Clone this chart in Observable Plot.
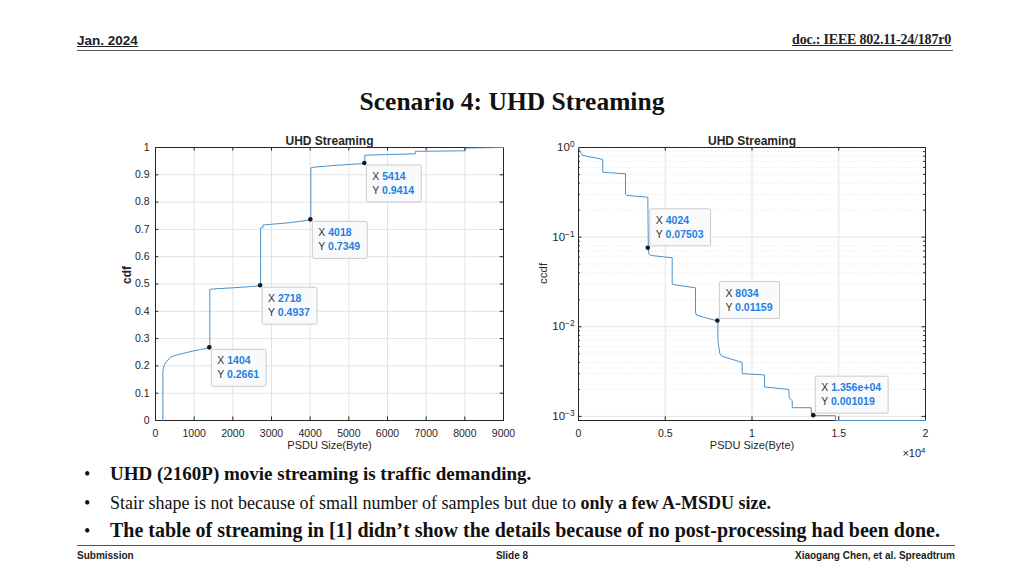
<!DOCTYPE html>
<html>
<head>
<meta charset="utf-8">
<script src="https://cdn.jsdelivr.net/npm/d3@7"></script>
<script src="https://cdn.jsdelivr.net/npm/@observablehq/plot@0.6"></script>
<style>
  html, body { margin:0; padding:0; background:#fff; }
  #page { position:relative; width:1024px; height:576px; overflow:hidden; background:#fff; }
  .abs { position:absolute; white-space:nowrap; }
  .hdrL { left:77px; top:33px; font-family:"Liberation Sans Narrow","Liberation Sans",Arial,sans-serif; font-stretch:condensed; font-weight:bold; font-size:13.5px; color:#222; text-decoration:underline; }
  .hdrR { right:73px; top:32px; font-family:"Liberation Serif","Times New Roman",serif; font-weight:bold; font-size:14px; color:#222; letter-spacing:-0.2px; text-decoration:underline; }
  .rule { position:absolute; height:0; border-top:1.5px solid #555; }
  .title { left:0; width:1024px; top:87px; text-align:center; font-family:"Liberation Serif","Times New Roman",serif; font-weight:bold; font-size:25.5px; color:#111; }
  .bullet { left:84px; font-family:"Liberation Serif","Times New Roman",serif; color:#111; }
  .bullet span.dot { display:inline-block; width:26px; font-size:18px; }
  .foot { top:550px; font-family:"Liberation Sans Narrow","Liberation Sans",Arial,sans-serif; font-weight:bold; font-size:10px; color:#222; }
  #left, #right { position:absolute; top:125px; }
  #left { left:100px; } #right { left:520px; }
</style>
</head>
<body>
<div id="page">
  <div class="abs hdrL">Jan. 2024</div>
  <div class="abs hdrR">doc.: IEEE 802.11-24/187r0</div>
  <div class="rule" style="left:77px; width:876px; top:50px;"></div>
  <div class="abs title">Scenario 4: UHD Streaming</div>
  <div id="left"></div>
  <div id="right"></div>
  <div class="abs bullet" style="top:463px; font-size:19px;"><span class="dot">•</span><b>UHD (2160P) movie streaming is traffic demanding.</b></div>
  <div class="abs bullet" style="top:493px; font-size:18px;"><span class="dot">•</span>Stair shape is not because of small number of samples but due to <b>only a few A-MSDU size.</b></div>
  <div class="abs bullet" style="top:519px; font-size:20px;"><span class="dot">•</span><b>The table of streaming in [1] didn’t show the details because of no post-processing had been done.</b></div>
  <div class="rule" style="left:77px; width:878px; top:545px;"></div>
  <div class="abs foot" style="left:77px;">Submission</div>
  <div class="abs foot" style="left:0; width:1024px; text-align:center;">Slide 8</div>
  <div class="abs foot" style="right:69px;">Xiaogang Chen, et al. Spreadtrum</div>
</div>
<script>
// ---------- data ----------
const chartTitle = "UHD Streaming";
const xLabel = "PSDU Size(Byte)";

// Left: CDF of PSDU size
const cdfX = [190,190,200,230,280,390,550,724,950,1164,1404,1404,1500,2000,2500,2718,2718,2780,2780,3500,4018,4018,4100,4700,5414,5414,6000,6720,6720,7500,8020,8020,9000];
const cdfY = [0,0.17,0.19,0.205,0.215,0.232,0.240,0.246,0.254,0.260,0.2661,0.48,0.482,0.486,0.491,0.4937,0.705,0.707,0.716,0.725,0.7349,0.925,0.928,0.935,0.9414,0.972,0.974,0.977,0.986,0.987,0.988,0.998,1.0];
const xTicksL = [0,1000,2000,3000,4000,5000,6000,7000,8000,9000];
const yTicksL = [0,0.1,0.2,0.3,0.4,0.5,0.6,0.7,0.8,0.9,1];
const tipsL = [
  {x:1404, y:0.2661, xs:"1404", ys:"0.2661"},
  {x:2718, y:0.4937, xs:"2718", ys:"0.4937"},
  {x:4018, y:0.7349, xs:"4018", ys:"0.7349"},
  {x:5414, y:0.9414, xs:"5414", ys:"0.9414"}
];

// Right: CCDF (log y)
const ccdfX = [0,60,150,210,600,1000,1400,1400,2000,2710,2710,2780,3400,3995,4024,4060,4150,5000,5400,5400,5500,6744,6744,6800,7200,8034,8034,8080,8150,8250,9434,9434,10720,10720,12120,12150,12320,12320,13410,13430,13560,14810,14810,20000];
const ccdfY = [1,0.95,0.86,0.82,0.79,0.765,0.735,0.53,0.52,0.509,0.305,0.292,0.285,0.279,0.07503,0.065,0.0625,0.060,0.0589,0.030,0.0295,0.0272,0.0146,0.0135,0.0128,0.01159,0.0071,0.0060,0.0050,0.0047,0.0040,0.0030,0.0029,0.00213,0.0020,0.0016,0.0015,0.00125,0.00125,0.00103,0.001019,0.001019,0.0009,0.0009];
const xTicksR = [0,5000,10000,15000,20000];
const yTicksR = [0.001,0.01,0.1,1];
const yTickExpR = ["-3","-2","-1","0"];
const yMinorR = [0.002,0.003,0.004,0.005,0.006,0.007,0.008,0.009,0.02,0.03,0.04,0.05,0.06,0.07,0.08,0.09,0.2,0.3,0.4,0.5,0.6,0.7,0.8,0.9];
const tipsR = [
  {x:4024, y:0.07503, xs:"4024", ys:"0.07503"},
  {x:8034, y:0.01159, xs:"8034", ys:"0.01159"},
  {x:13560, y:0.001019, xs:"1.356e+04", ys:"0.001019"}
];

// ---------- styles ----------
const lineColor = "#4a92cb";
const gridColor = "#e3e3e3";
const axisColor = "#262626";
const font = "'Liberation Sans', Arial, Helvetica, sans-serif";

const cdfData = cdfX.map((x,i)=>({x, y:cdfY[i]}));
const ccdfData = ccdfX.map((x,i)=>({x, y:ccdfY[i]}));

// ---------- left chart ----------
const left = Plot.plot({
  width:420, height:335, marginLeft:55, marginRight:17, marginTop:22, marginBottom:40,
  style:{fontFamily:font, fontSize:"10.5px", color:axisColor, background:"transparent"},
  x:{domain:[0,9000]},
  y:{domain:[0,1]},
  marks:[
    Plot.gridX(xTicksL, {stroke:gridColor, strokeOpacity:1}),
    Plot.gridY(yTicksL, {stroke:gridColor, strokeOpacity:1}),
    Plot.ruleX(xTicksL, {x:d=>d, y1:0, y2:0.013, stroke:axisColor}),
    Plot.ruleX(xTicksL, {x:d=>d, y1:1, y2:0.987, stroke:axisColor}),
    Plot.ruleY(yTicksL, {y:d=>d, x1:0, x2:85, stroke:axisColor}),
    Plot.ruleY(yTicksL, {y:d=>d, x1:9000, x2:8915, stroke:axisColor}),
    Plot.frame({stroke:axisColor}),
    Plot.axisX(xTicksL, {tickSize:0, tickPadding:9, label:null, tickFormat:d=>String(d)}),
    Plot.axisY(yTicksL, {tickSize:0, tickPadding:6, label:null, tickFormat:d=>String(d)}),
    Plot.line(cdfData, {x:"x", y:"y", stroke:lineColor, strokeWidth:1}),
    Plot.text(["cdf"], {frameAnchor:"left", rotate:-90, dx:-28, fontWeight:"bold", fontSize:12}),
    Plot.text([xLabel], {frameAnchor:"bottom", dy:28, fontSize:11}),
    Plot.text([chartTitle], {frameAnchor:"top", dy:-11, fontWeight:"bold", fontSize:12})
  ]
});
document.getElementById("left").appendChild(left);

// ---------- right chart ----------
const right = Plot.plot({
  width:420, height:335, marginLeft:58, marginRight:15, marginTop:22, marginBottom:40,
  style:{fontFamily:font, fontSize:"10.5px", color:axisColor, background:"transparent"},
  x:{domain:[0,20000]},
  y:{type:"log", domain:[0.0009,1]},
  marks:[
    Plot.gridY(yMinorR, {stroke:"#ececec", strokeOpacity:1, strokeDasharray:"1.5,2"}),
    Plot.gridX(xTicksR, {stroke:gridColor, strokeOpacity:1}),
    Plot.gridY(yTicksR, {stroke:gridColor, strokeOpacity:1}),
    Plot.ruleX(xTicksR, {x:d=>d, y1:0.0009, y2:0.00099, stroke:axisColor}),
    Plot.ruleX(xTicksR, {x:d=>d, y1:1, y2:0.91, stroke:axisColor}),
    Plot.ruleY(yTicksR, {y:d=>d, x1:0, x2:200, stroke:axisColor}),
    Plot.ruleY(yTicksR, {y:d=>d, x1:20000, x2:19800, stroke:axisColor}),
    Plot.ruleY(yMinorR, {y:d=>d, x1:0, x2:110, stroke:axisColor}),
    Plot.ruleY(yMinorR, {y:d=>d, x1:20000, x2:19890, stroke:axisColor}),
    Plot.frame({stroke:axisColor}),
    Plot.axisX(xTicksR, {tickSize:0, tickPadding:9, label:null, tickFormat:d=>String(d/10000)}),
    Plot.axisY(yTicksR, {tickSize:0, tickPadding:4, label:null, fontSize:11.5, tickFormat:d=>"10^" + yTickExpR[yTicksR.indexOf(d)]}),
    Plot.line(ccdfData, {x:"x", y:"y", stroke:lineColor, strokeWidth:1}),
    Plot.text(["ccdf"], {frameAnchor:"left", rotate:-90, dx:-35, fontSize:11.5}),
    Plot.text([xLabel], {frameAnchor:"bottom", dy:28, fontSize:11}),
    Plot.text(["\u00D710^4"], {frameAnchor:"bottom-right", dy:36, textAnchor:"end", fontSize:11}),
    Plot.text([chartTitle], {frameAnchor:"top", dy:-11, fontWeight:"bold", fontSize:12})
  ]
});
document.getElementById("right").appendChild(right);

// render "10^k" texts with real superscripts
d3.select(right).selectAll("text").each(function() {
  const el = d3.select(this);
  const s = el.text();
  const m = s.match(/^(.*10)\^(-?\d)$/);
  if (!m) return;
  el.text("");
  el.append("tspan").text(m[1]);
  el.append("tspan").attr("dy", "-0.5em").attr("font-size", "0.72em").text(m[2].replace("-", "\u2212"));
});

// ---------- data tips ----------
function addTips(plot, tips, above) {
  const sx = plot.scale("x"), sy = plot.scale("y");
  const svg = d3.select(plot);
  const g = svg.append("g").attr("font-family", font).attr("font-size", 10.5).attr("text-anchor", "start");
  tips.forEach(t => {
    const px = sx.apply(t.x), py = sy.apply(t.y);
    const tg = g.append("g");
    const bx = px + 2;
    const by = above ? py - 39 : py + 2;
    const rect = tg.append("rect").attr("x", bx).attr("y", by).attr("height", 37)
      .attr("fill", "#f9fafc").attr("stroke", "#c9cbd0").attr("stroke-width", 1).attr("rx", 1.5);
    const t1 = tg.append("text").attr("x", bx + 6).attr("y", by + 15).attr("fill", "#333");
    t1.append("tspan").text("X ");
    t1.append("tspan").attr("fill", "#1f80e0").attr("font-weight", "bold").text(t.xs);
    const t2 = tg.append("text").attr("x", bx + 6).attr("y", by + 29).attr("fill", "#333");
    t2.append("tspan").text("Y ");
    t2.append("tspan").attr("fill", "#1f80e0").attr("font-weight", "bold").text(t.ys);
    const w = Math.max(t1.node().getComputedTextLength(), t2.node().getComputedTextLength());
    rect.attr("width", w + 13);
    g.append("circle").attr("cx", px).attr("cy", py).attr("r", 2.3).attr("fill", "#1a1a1a");
  });
}
addTips(left, tipsL, false);
addTips(right, tipsR, true);
</script>
</body>
</html>
